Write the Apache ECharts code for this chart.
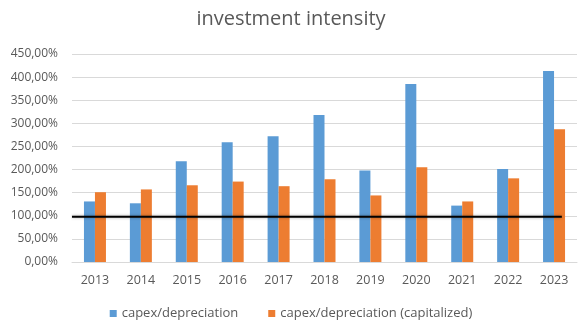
<!DOCTYPE html>
<html><head><meta charset="utf-8">
<script src="https://cdn.jsdelivr.net/npm/echarts@6/dist/echarts.min.js"></script>
<style>html,body{margin:0;padding:0;background:#fff}#c{width:582px;height:326px}</style>
</head><body><div id="c"></div>
<script>
const categories = ['2013','2014','2015','2016','2017','2018','2019','2020','2021','2022','2023'];
const capexDep = [131, 127, 218, 259, 272, 318, 198, 385, 122, 201, 413];
const capexDepCap = [151, 157, 166, 174, 164, 179, 144, 205, 131, 181, 287];
const thresholdLine = [[0, 98], [10.67, 98]];
const seriesNames = ['capex/depreciation', 'capex/depreciation (capitalized)'];
const FONT = '"Open Sans", sans-serif';
const chart = echarts.init(document.getElementById('c'));
chart.setOption({
  animation: false,
  title: { text: 'investment intensity', left: 'center', top: 4,
    textStyle: { fontFamily: FONT, fontSize: 20, fontWeight: 'normal', color: '#595959' } },
  legend: { bottom: 1, itemWidth: 7, itemHeight: 7, itemGap: 30, icon: 'rect',
    data: seriesNames,
    textStyle: { fontFamily: FONT, fontSize: 13, color: '#595959' } },
  grid: { left: 72, right: 5, top: 54, bottom: 64 },
  xAxis: [{
    type: 'category', data: categories,
    axisLine: { lineStyle: { color: '#d9d9d9' } }, axisTick: { show: false },
    axisLabel: { fontFamily: FONT, fontSize: 12.5, color: '#595959', margin: 12 }
  }, {
    type: 'value', min: 0, max: 11, show: false
  }],
  yAxis: {
    type: 'value', min: 0, max: 450, interval: 50,
    axisLine: { show: false }, axisTick: { show: false },
    splitLine: { lineStyle: { color: '#d9d9d9' } },
    axisLabel: { fontFamily: FONT, fontSize: 12, color: '#595959', margin: 14,
      formatter: v => v + ',00%' }
  },
  series: [
    { name: seriesNames[0], type: 'bar', data: capexDep, barWidth: 11, barGap: '0%',
      itemStyle: { color: '#5B9BD5' } },
    { name: seriesNames[1], type: 'bar', data: capexDepCap, barWidth: 11,
      itemStyle: { color: '#ED7D31' } },
    { type: 'line', xAxisIndex: 1, data: thresholdLine, symbol: 'none', silent: true,
      lineStyle: { color: '#000', width: 2, shadowColor: 'rgba(0,0,0,0.35)', shadowBlur: 3 } }
  ]
});
</script></body></html>
